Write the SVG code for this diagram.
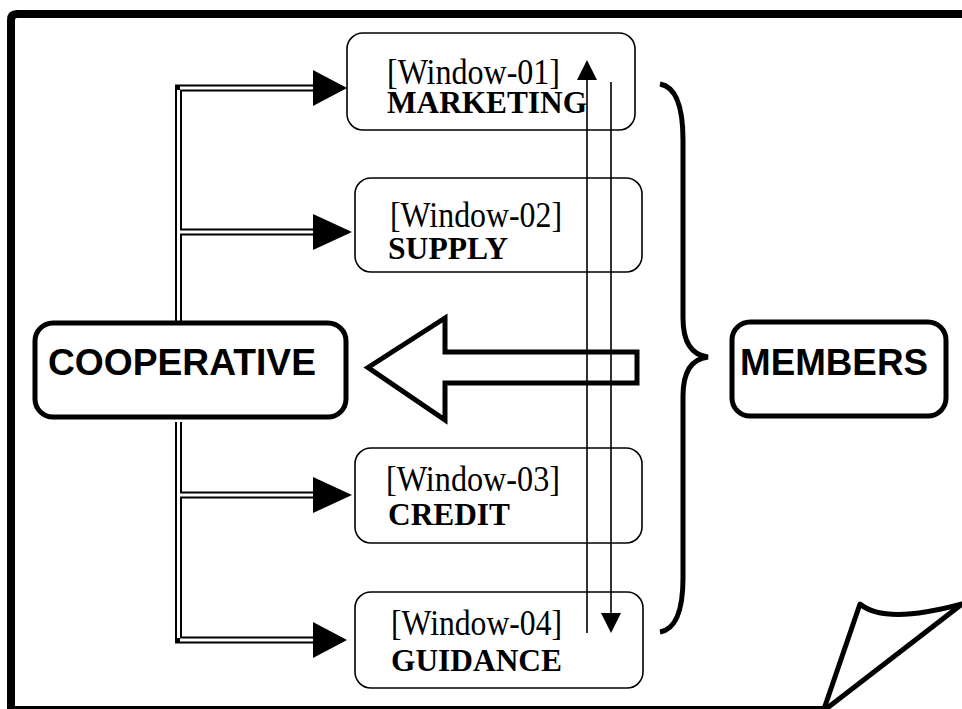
<svg xmlns="http://www.w3.org/2000/svg" width="962" height="709" viewBox="0 0 962 709">
<style>
.win{fill:#fff;stroke:#000;stroke-width:1.6}
.big{fill:#fff;stroke:#000;stroke-width:5}
.t1{font-family:"Liberation Serif","Times New Roman",serif;font-size:35px;fill:#000}
.t2{font-family:"Liberation Serif","Times New Roman",serif;font-size:32px;font-weight:bold;fill:#000}
.t3{font-family:"Liberation Sans",Arial,sans-serif;font-size:36px;font-weight:bold;fill:#000}
.dblo{fill:none;stroke:#000;stroke-width:7}
.dbli{fill:none;stroke:#fff;stroke-width:3}
.thin{fill:none;stroke:#000;stroke-width:1.6}
</style>
<rect width="962" height="709" fill="#fff"/>
<g id="frame">
<path d="M962 14 L17 14 Q11 14 11 20 L11 710 L824 710" fill="none" stroke="#000" stroke-width="8"/>
<path d="M824 709 L860 604 Q885 625 962 604 L826 709" fill="none" stroke="#000" stroke-width="5" stroke-linejoin="round"/>
</g>
<g id="connectors">
<path class="dblo" d="M178.5 88 L178.5 325 M178.5 422 L178.5 640"/>
<path class="dblo" d="M175 88 L313 88 M178.5 232 L313 232 M178.5 495 L313 495 M175 640 L313 640"/>
<path class="dbli" d="M178.5 90 L178.5 325 M178.5 422 L178.5 638"/>
<path class="dbli" d="M180 88 L313 88 M180 232 L313 232 M180 495 L313 495 M180 640 L313 640"/>
<polygon points="313,70 347,88 313,106" fill="#000"/>
<polygon points="313,214 352,232 313,250" fill="#000"/>
<polygon points="313,477 352,495 313,513" fill="#000"/>
<polygon points="313,622 347,640 313,658" fill="#000"/>
<path class="big" d="M368 367.5 L445 318 L445 352 L637 352 L637 383 L445 383 L445 420 Z"/>
<path d="M660 84 Q683 88 683 140 L683 318 Q683 354 708 357 Q683 360 683 396 L683 578 Q683 628 660 632" fill="none" stroke="#000" stroke-width="5"/>
</g>
<g id="window-01">
<rect class="win" x="347" y="33" width="288" height="97" rx="16"/>
<text class="t1" x="387" y="84" textLength="173" lengthAdjust="spacingAndGlyphs">[Window-01]</text>
<text class="t2" x="387" y="113" textLength="200" lengthAdjust="spacingAndGlyphs">MARKETING</text>
</g>
<g id="window-02">
<rect class="win" x="355" y="178" width="287" height="94" rx="16"/>
<text class="t1" x="390" y="227" textLength="172" lengthAdjust="spacingAndGlyphs">[Window-02]</text>
<text class="t2" x="388" y="259" textLength="120" lengthAdjust="spacingAndGlyphs">SUPPLY</text>
</g>
<g id="window-03">
<rect class="win" x="355" y="448" width="287" height="95" rx="16"/>
<text class="t1" x="386" y="491" textLength="174" lengthAdjust="spacingAndGlyphs">[Window-03]</text>
<text class="t2" x="388" y="525" textLength="122" lengthAdjust="spacingAndGlyphs">CREDIT</text>
</g>
<g id="window-04">
<rect class="win" x="355" y="592" width="288" height="96" rx="16"/>
<text class="t1" x="391" y="635" textLength="171" lengthAdjust="spacingAndGlyphs">[Window-04]</text>
<text class="t2" x="391" y="671" textLength="171" lengthAdjust="spacingAndGlyphs">GUIDANCE</text>
</g>
<g id="flow-arrows">
<line class="thin" x1="587" y1="633" x2="587" y2="78"/>
<polygon points="587,60 597,80 577,80" fill="#000"/>
<line class="thin" x1="611" y1="82" x2="611" y2="615"/>
<polygon points="611,633 621,613 601,613" fill="#000"/>
</g>
<g id="cooperative">
<rect class="big" x="35" y="323" width="311" height="94" rx="18"/>
<text class="t3" x="48" y="375" textLength="268" lengthAdjust="spacingAndGlyphs">COOPERATIVE</text>
</g>
<g id="members">
<rect class="big" x="732" y="322" width="214" height="94" rx="18"/>
<text class="t3" x="740" y="375" textLength="188" lengthAdjust="spacingAndGlyphs">MEMBERS</text>
</g>
</svg>
